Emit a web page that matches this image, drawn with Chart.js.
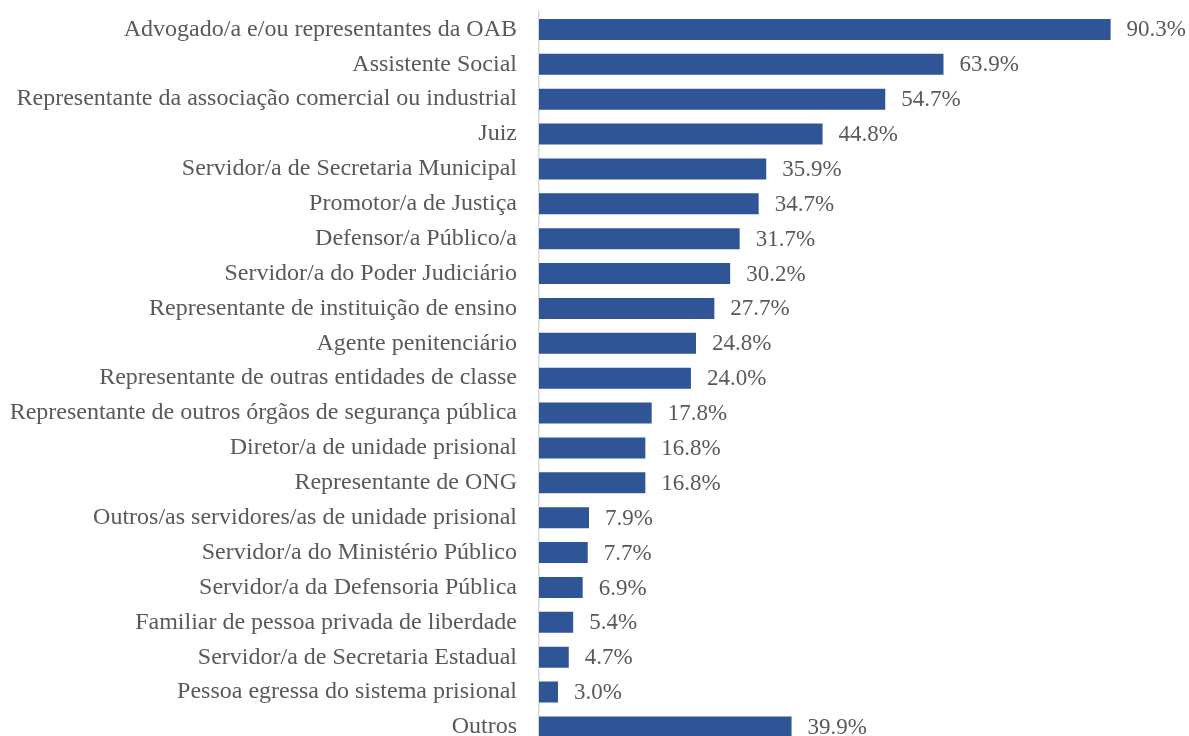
<!DOCTYPE html>
<html>
<head>
<meta charset="utf-8">
<script src="https://cdn.jsdelivr.net/npm/chart.js"></script>
<style>
    html, body { margin: 0; padding: 0; background: #fff; overflow: hidden; }
    canvas { display: block; }
</style>
</head>
<body>
<canvas id="barChart" width="1189" height="760"></canvas>
<script>
const categories = [
    'Advogado/a e/ou representantes da OAB',
    'Assistente Social',
    'Representante da associação comercial ou industrial',
    'Juiz',
    'Servidor/a de Secretaria Municipal',
    'Promotor/a de Justiça',
    'Defensor/a Público/a',
    'Servidor/a do Poder Judiciário',
    'Representante de instituição de ensino',
    'Agente penitenciário',
    'Representante de outras entidades de classe',
    'Representante de outros órgãos de segurança pública',
    'Diretor/a de unidade prisional',
    'Representante de ONG',
    'Outros/as servidores/as de unidade prisional',
    'Servidor/a do Ministério Público',
    'Servidor/a da Defensoria Pública',
    'Familiar de pessoa privada de liberdade',
    'Servidor/a de Secretaria Estadual',
    'Pessoa egressa do sistema prisional',
    'Outros'
];
const percentages = [90.3, 63.9, 54.7, 44.8, 35.9, 34.7, 31.7, 30.2, 27.7, 24.8, 24.0, 17.8, 16.8, 16.8, 7.9, 7.7, 6.9, 5.4, 4.7, 3.0, 39.9];

const serif = '"Liberation Serif", "Times New Roman", serif';

// value labels to the right of each bar
const valueLabels = {
    id: 'valueLabels',
    afterDatasetsDraw(chart) {
        const ctx = chart.ctx;
        const meta = chart.getDatasetMeta(0);
        ctx.save();
        ctx.font = '23px ' + serif;
        ctx.fillStyle = '#595959';
        ctx.textAlign = 'left';
        ctx.textBaseline = 'middle';
        meta.data.forEach((bar, i) => {
            ctx.fillText(percentages[i].toFixed(1) + '%', bar.x + 16, bar.y + 1);
        });
        ctx.restore();
    }
};

const barChart = new Chart(document.getElementById('barChart'), {
    type: 'bar',
    data: {
        labels: categories,
        datasets: [{
            data: percentages,
            backgroundColor: '#2F5597',
            categoryPercentage: 1,
            barPercentage: 0.6
        }]
    },
    options: {
        indexAxis: 'y',
        responsive: false,
        animation: false,
        layout: {
            padding: { top: 12, bottom: 15.6, left: 0, right: 17 }
        },
        plugins: {
            legend: { display: false },
            tooltip: { enabled: false }
        },
        scales: {
            x: {
                display: false,
                min: 0,
                max: 100
            },
            y: {
                afterFit(scale) {
                    scale.width = 539;
                    // don't let tick label height push the plot area in
                    scale.paddingTop = 0;
                    scale.paddingBottom = 0;
                },
                grid: { display: false },
                border: { display: true, color: '#d9d9d9', width: 1.5 },
                ticks: {
                    color: '#595959',
                    padding: 14,
                    font: { family: serif, size: 24 }
                }
            }
        }
    },
    plugins: [valueLabels]
});
</script>
</body>
</html>
